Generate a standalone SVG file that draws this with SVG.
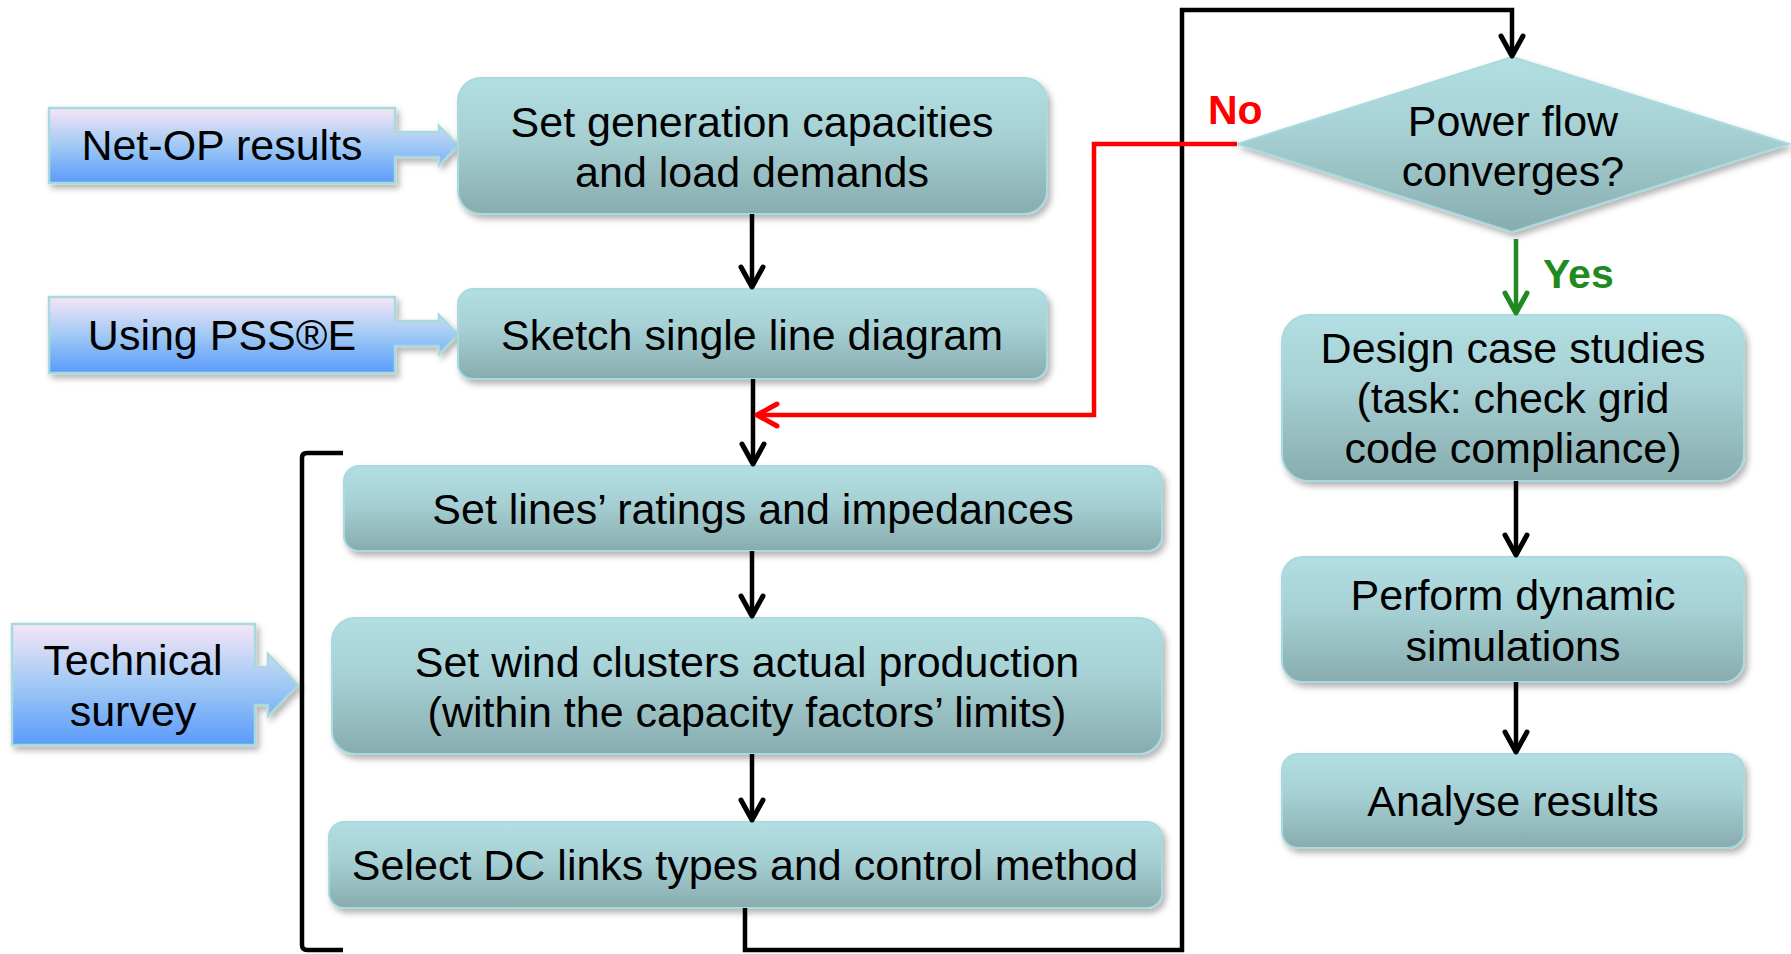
<svg xmlns="http://www.w3.org/2000/svg" width="1791" height="954" viewBox="0 0 1791 954">
  <defs>
    <linearGradient id="tealFill" x1="0" y1="0" x2="0" y2="1">
      <stop offset="0" stop-color="#b2dfe3"/>
      <stop offset="0.45" stop-color="#a5cfd3"/>
      <stop offset="1" stop-color="#88acae"/>
    </linearGradient>
    <linearGradient id="inputFill" x1="0" y1="0" x2="0" y2="1">
      <stop offset="0" stop-color="#f7e5f6"/>
      <stop offset="0.5" stop-color="#a0c9f5"/>
      <stop offset="1" stop-color="#5a9bfa"/>
    </linearGradient>
    <filter id="shadow" x="-10%" y="-10%" width="120%" height="130%">
      <feDropShadow dx="3" dy="4" stdDeviation="3" flood-color="#000" flood-opacity="0.3"/>
    </filter>
    <marker id="headBlack" markerUnits="userSpaceOnUse" markerWidth="30" markerHeight="30" viewBox="-24 -15 30 30" refX="0" refY="0" orient="auto">
      <path d="M-20,-11 L0,0 L-20,11" fill="none" stroke="#000" stroke-width="5" stroke-linecap="round" stroke-linejoin="round"/>
    </marker>
    <marker id="headRed" markerUnits="userSpaceOnUse" markerWidth="30" markerHeight="30" viewBox="-24 -15 30 30" refX="0" refY="0" orient="auto">
      <path d="M-20,-11 L0,0 L-20,11" fill="none" stroke="#ff0000" stroke-width="5" stroke-linecap="round" stroke-linejoin="round"/>
    </marker>
    <marker id="headGreen" markerUnits="userSpaceOnUse" markerWidth="30" markerHeight="30" viewBox="-24 -15 30 30" refX="0" refY="0" orient="auto">
      <path d="M-20,-11 L0,0 L-20,11" fill="none" stroke="#1f8a1f" stroke-width="5" stroke-linecap="round" stroke-linejoin="round"/>
    </marker>
    <style>
      .step { fill: url(#tealFill); stroke: #a9dadd; stroke-width: 2; filter: url(#shadow); }
      .input { fill: url(#inputFill); stroke: #a6dadd; stroke-width: 2.5; filter: url(#shadow); }
      .label { font-family: "Liberation Sans", Arial, sans-serif; font-size: 43px; fill: #000; text-anchor: middle; }
      .flag { font-family: "Liberation Sans", Arial, sans-serif; font-size: 41px; font-weight: bold; }
      .wire { fill: none; stroke: #000; stroke-width: 4.5; }
    </style>
  </defs>

  <rect width="1791" height="954" fill="#ffffff"/>

  <!-- input callouts -->
  <g id="net-op-results">
    <path class="input" d="M49,108 H395 V132 H439 V126 L458,145.5 L439,165 V157 H395 V183 H49 Z"/>
    <text class="label" x="222" y="160">Net-OP results</text>
  </g>
  <g id="using-psse">
    <path class="input" d="M49,297 H395 V321 H439 V315 L458,334.5 L439,354 V346 H395 V373 H49 Z"/>
    <text class="label" x="222" y="350">Using PSS®E</text>
  </g>
  <g id="technical-survey">
    <path class="input" d="M12,624 H255 V667 H268 V654 L298,685 L268,716 V705 H255 V745 H12 Z"/>
    <text class="label" x="133" y="675">Technical</text>
    <text class="label" x="133" y="726">survey</text>
  </g>

  <!-- bracket grouping the network modelling steps -->
  <g id="bracket">
    <path class="wire" d="M343,453 H307 Q302,453 302,458 V945 Q302,950 307,950 H343"/>
  </g>

  <!-- process steps, left column -->
  <g id="set-generation">
    <rect class="step" x="458" y="78" width="589" height="136" rx="23"/>
    <text class="label" x="752" y="137">Set generation capacities</text>
    <text class="label" x="752" y="187">and load demands</text>
  </g>
  <g id="sketch-sld">
    <rect class="step" x="458" y="289" width="589" height="90" rx="15"/>
    <text class="label" x="752" y="350">Sketch single line diagram</text>
  </g>
  <g id="set-lines">
    <rect class="step" x="344" y="466" width="818" height="85" rx="15"/>
    <text class="label" x="753" y="524">Set lines’ ratings and impedances</text>
  </g>
  <g id="set-wind">
    <rect class="step" x="332" y="618" width="830" height="136" rx="23"/>
    <text class="label" x="747" y="677">Set wind clusters actual production</text>
    <text class="label" x="747" y="727">(within the capacity factors’ limits)</text>
  </g>
  <g id="select-dc">
    <rect class="step" x="329" y="822" width="833" height="86" rx="15"/>
    <text class="label" x="745" y="880">Select DC links types and control method</text>
  </g>

  <!-- decision and right column -->
  <g id="power-flow">
    <path class="step" d="M1512,57 L1789,144 L1512,232 L1237,144 Z"/>
    <text class="label" x="1513" y="136">Power flow</text>
    <text class="label" x="1513" y="186">converges?</text>
  </g>
  <g id="design-cases">
    <rect class="step" x="1282" y="315" width="462" height="166" rx="27"/>
    <text class="label" x="1513" y="363">Design case studies</text>
    <text class="label" x="1513" y="413">(task: check grid</text>
    <text class="label" x="1513" y="463">code compliance)</text>
  </g>
  <g id="dynamic-sims">
    <rect class="step" x="1282" y="557" width="462" height="125" rx="21"/>
    <text class="label" x="1513" y="610">Perform dynamic</text>
    <text class="label" x="1513" y="661">simulations</text>
  </g>
  <g id="analyse-results">
    <rect class="step" x="1282" y="754" width="462" height="94" rx="16"/>
    <text class="label" x="1513" y="816">Analyse results</text>
  </g>

  <!-- connectors -->
  <g id="connectors">
    <line class="wire" x1="752" y1="214" x2="752" y2="287" marker-end="url(#headBlack)"/>
    <line class="wire" x1="753" y1="379" x2="753" y2="464" marker-end="url(#headBlack)"/>
    <line class="wire" x1="752" y1="551" x2="752" y2="616" marker-end="url(#headBlack)"/>
    <line class="wire" x1="752" y1="754" x2="752" y2="820" marker-end="url(#headBlack)"/>
    <path class="wire" d="M745,908 V950 H1182 V10 H1512 V56" marker-end="url(#headBlack)"/>
    <path d="M1237,144 H1094 V415 H757" fill="none" stroke="#ff0000" stroke-width="4.5" marker-end="url(#headRed)"/>
    <line x1="1516" y1="239" x2="1516" y2="313" stroke="#1f8a1f" stroke-width="4.5" marker-end="url(#headGreen)"/>
    <line class="wire" x1="1516" y1="481" x2="1516" y2="555" marker-end="url(#headBlack)"/>
    <line class="wire" x1="1516" y1="682" x2="1516" y2="752" marker-end="url(#headBlack)"/>
    <text class="flag" x="1208" y="124" fill="#ff0000">No</text>
    <text class="flag" x="1543" y="288" fill="#1f8a1f">Yes</text>
  </g>
</svg>
